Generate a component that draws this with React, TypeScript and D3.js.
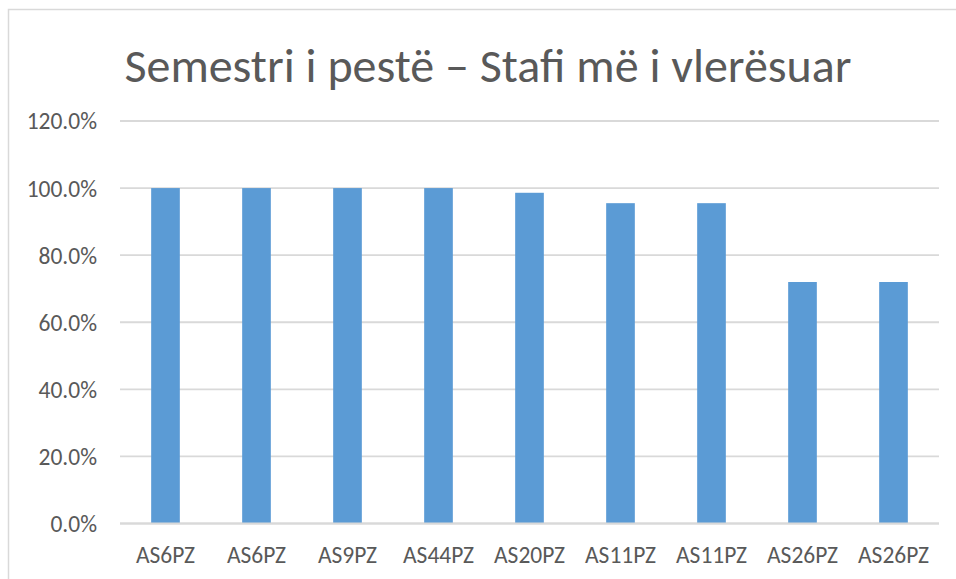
import React from "react";
import * as d3 from "d3";

const categories = ["AS6PZ", "AS6PZ", "AS9PZ", "AS44PZ", "AS20PZ", "AS11PZ", "AS11PZ", "AS26PZ", "AS26PZ"];
const values = [1.0, 1.0, 1.0, 1.0, 0.986, 0.955, 0.955, 0.72, 0.72];
const yTicks = [0, 0.2, 0.4, 0.6, 0.8, 1.0, 1.2];
const title = "Semestri i pestë – Stafi më i vlerësuar";

const W = 956;
const H = 579;
const FONT = "Carlito, Lato, 'Open Sans', sans-serif";

export default function App() {
  const left = 120;
  const right = 939;
  const top = 121;
  const bottom = 523.5;
  const x = d3.scaleBand<number>().domain(d3.range(categories.length)).range([left, right]).paddingInner(0.685).paddingOuter(0.3425);
  const y = d3.scaleLinear().domain([0, 1.2]).range([bottom, top]);
  const fmt = d3.format(".1%");
  return (
    <svg width={W} height={H} style={{ position: "absolute", left: 0, top: 0, background: "#fff" }}>
      <rect x={8.5} y={9.5} width={W + 20} height={H + 20} fill="#fff" stroke="#d9d9d9" strokeWidth={1.5} />
      <text x={488} y={82} textAnchor="middle" fontFamily={FONT} fontSize={48} fill="#595959">{title}</text>
      {yTicks.map((t) => (
        <g key={t}>
          <line x1={left} x2={right} y1={y(t)} y2={y(t)} stroke="#d9d9d9" strokeWidth={1.8} />
          <text x={97} y={y(t)} dy="0.36em" textAnchor="end" fontFamily={FONT} fontSize={23.5} fill="#595959">{fmt(t)}</text>
        </g>
      ))}
      {values.map((v, i) => (
        <rect key={i} x={x(i)} y={y(v)} width={x.bandwidth()} height={y(0) - y(v)} fill="#5b9bd5" />
      ))}
      <line x1={left} x2={right} y1={y(0)} y2={y(0)} stroke="#d9d9d9" strokeWidth={1.8} />
      {categories.map((c, i) => (
        <text key={i} x={(x(i) as number) + x.bandwidth() / 2} y={563} textAnchor="middle" fontFamily={FONT} fontSize={23.5} fill="#595959">{c}</text>
      ))}
    </svg>
  );
}
